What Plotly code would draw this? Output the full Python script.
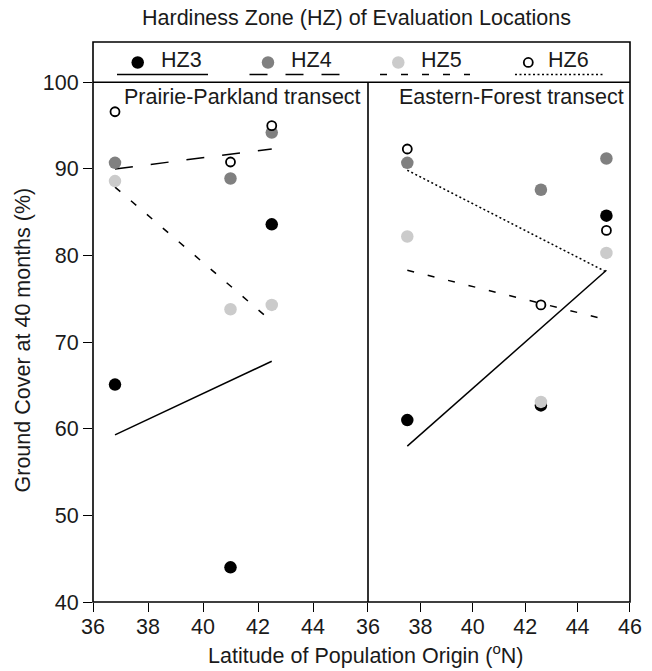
import plotly.graph_objects as go

# ---------------- data ----------------
zones = ["HZ3", "HZ4", "HZ5", "HZ6"]

lat_pp = [36.8, 41.0, 42.5]          # Prairie-Parkland populations
pp_hz3 = [65.1, 44.0, 83.6]
pp_hz4 = [90.7, 88.9, 94.2]
pp_hz5 = [88.6, 73.8, 74.3]
pp_hz6 = [96.6, 90.8, 95.0]

lat_ef = [37.5, 42.6, 45.1]          # Eastern-Forest populations
ef_hz3 = [61.0, 62.7, 84.6]
ef_hz4 = [90.7, 87.6, 91.2]
ef_hz5 = [82.2, 63.1, 80.3]
ef_hz6 = [92.3, 74.3, 82.9]

# fitted regression lines (start / end values at the latitude extremes)
pp_fit = {"HZ3": [59.3, 67.8], "HZ4": [90.0, 92.3], "HZ5": [87.9, 72.4]}
ef_fit = {"HZ3": [58.0, 78.3], "HZ5": [78.3, 72.6], "HZ6": [89.85, 78.1]}

x_ticks_left = [36, 38, 40, 42, 44]
x_ticks_right = [36, 38, 40, 42, 44, 46]
y_ticks = [40, 50, 60, 70, 80, 90, 100]

# ---------------- styles ----------------
FONT = "Liberation Sans, Arial, Helvetica, sans-serif"
TXT = "#1a1a1a"
FS = 21.5
style = {
    "HZ3": dict(fill="black", dash="solid", size=12.5, lw=0),
    "HZ4": dict(fill="#808080", dash="18px,18px", size=12.5, lw=0),
    "HZ5": dict(fill="#cbcbcb", dash="7px,14px", size=12.5, lw=0),
    "HZ6": dict(fill="white", dash="2px,2.5px", size=9, lw=1.8),
}

pp_vals = {"HZ3": pp_hz3, "HZ4": pp_hz4, "HZ5": pp_hz5, "HZ6": pp_hz6}
ef_vals = {"HZ3": ef_hz3, "HZ4": ef_hz4, "HZ5": ef_hz5, "HZ6": ef_hz6}

fig = go.Figure()

# regression lines
for fits, lats, xa in [(pp_fit, lat_pp, "x"), (ef_fit, lat_ef, "x2")]:
    for z, (v0, v1) in fits.items():
        fig.add_trace(go.Scatter(
            x=[min(lats), max(lats)], y=[v0, v1], mode="lines",
            xaxis=xa, yaxis="y", showlegend=False, hoverinfo="skip",
            line=dict(color="black", width=1.5, dash=style[z]["dash"]),
        ))

# points
for vals, lats, xa in [(pp_vals, lat_pp, "x"), (ef_vals, lat_ef, "x2")]:
    for z in zones:
        s = style[z]
        fig.add_trace(go.Scatter(
            x=lats, y=vals[z], mode="markers", xaxis=xa, yaxis="y",
            showlegend=False,
            marker=dict(size=s["size"], color=s["fill"],
                        line=dict(color="black" if z == "HZ6" else s["fill"], width=s["lw"])),
        ))

# ---------------- custom legend (coordinates of the legend strip, in px across plot) ----------------
leg_marker_x = [137.7, 268.0, 398.3, 528.3]
leg_text_x = [159.0, 288.5, 418.5, 546.0]
leg_line_x = [(117, 208), (249.5, 341), (380, 470), (515, 603)]
leg_marker_y = 62.3
leg_text_y = 60.0
leg_line_y = 74.5

for i, z in enumerate(zones):
    s = style[z]
    fig.add_trace(go.Scatter(
        x=[leg_marker_x[i]], y=[leg_marker_y], mode="markers", xaxis="x3", yaxis="y3",
        showlegend=False, hoverinfo="skip",
        marker=dict(size=s["size"], color=s["fill"],
                    line=dict(color="black" if z == "HZ6" else s["fill"], width=s["lw"])),
    ))
    fig.add_shape(type="line", xref="x3", yref="y3",
                  x0=leg_line_x[i][0], x1=leg_line_x[i][1], y0=leg_line_y, y1=leg_line_y,
                  line=dict(color="black", width=1.5, dash=s["dash"]))
    fig.add_annotation(xref="x3", yref="y3", x=leg_text_x[i], y=leg_text_y, text=z,
                       showarrow=False, xanchor="left", yanchor="middle",
                       font=dict(family=FONT, size=FS, color=TXT))

# ---------------- frame ----------------
SPLIT = 0.5121
YTOP = 0.928
fig.add_shape(type="rect", xref="paper", yref="paper", x0=0, x1=1, y0=0, y1=1,
              line=dict(color="black", width=1.6))
fig.add_shape(type="line", xref="paper", yref="paper", x0=0, x1=1, y0=YTOP, y1=YTOP,
              line=dict(color="black", width=1.6))
fig.add_shape(type="line", xref="paper", yref="paper", x0=SPLIT, x1=SPLIT, y0=0, y1=YTOP,
              line=dict(color="black", width=1.6))

# panel labels
fig.add_annotation(xref="x domain", yref="y domain", x=1, y=1, xanchor="right", yanchor="top",
                   xshift=-5, yshift=-1, text="Prairie-Parkland transect", showarrow=False,
                   font=dict(family=FONT, size=FS, color=TXT))
fig.add_annotation(xref="x2 domain", yref="y domain", x=1, y=1, xanchor="right", yanchor="top",
                   xshift=-4, yshift=-1, text="Eastern-Forest transect", showarrow=False,
                   font=dict(family=FONT, size=FS, color=TXT))

# titles
fig.add_annotation(xref="paper", yref="paper", x=0.49, y=1, yshift=24, xanchor="center",
                   yanchor="middle", borderpad=0, text="Hardiness Zone (HZ) of Evaluation Locations",
                   showarrow=False, font=dict(family=FONT, size=FS, color=TXT))
fig.add_annotation(xref="paper", yref="paper", x=0.508, y=0, yshift=-52, xanchor="center",
                   yanchor="middle", text="Latitude of Population Origin (<sup>o</sup>N)",
                   showarrow=False, font=dict(family=FONT, size=FS, color=TXT))
fig.add_annotation(xref="paper", yref="paper", x=0, y=0.467, xshift=-70, xanchor="center",
                   yanchor="middle", textangle=-90, text="Ground Cover at 40 months (%)",
                   showarrow=False, font=dict(family=FONT, size=FS, color=TXT))

tick_common = dict(ticks="outside", ticklen=9, tickwidth=1.2, tickcolor="black",
                   showgrid=False, zeroline=False, showline=False, automargin=False,
                   tickfont=dict(family=FONT, size=FS, color=TXT))

fig.update_layout(
    width=644, height=660,
    margin=dict(l=85, r=22, t=34, b=66, autoexpand=False),
    paper_bgcolor="white", plot_bgcolor="white",
    showlegend=False,
    xaxis=dict(domain=[0, SPLIT], range=[36, 46], tickvals=x_ticks_left, anchor="y",
               ticklabelstandoff=-4, **tick_common),
    xaxis2=dict(domain=[SPLIT, 1], range=[36, 46], tickvals=x_ticks_right, anchor="y",
                ticklabelstandoff=-4, **tick_common),
    yaxis=dict(domain=[0, YTOP], range=[40, 100], tickvals=y_ticks, anchor="x", **tick_common),
    xaxis3=dict(domain=[0, 1], range=[93, 630], visible=False, anchor="y3", fixedrange=True),
    yaxis3=dict(domain=[YTOP, 1], range=[82.3, 41.7], visible=False, anchor="x3", fixedrange=True),
)

fig.write_html("out.html")
